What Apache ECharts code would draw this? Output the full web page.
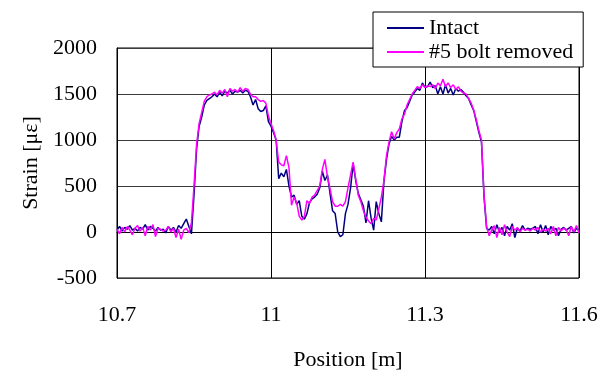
<!DOCTYPE html>
<html>
<head>
<meta charset="utf-8">
<script src="https://cdn.jsdelivr.net/npm/echarts@6/dist/echarts.min.js"></script>
<style>
html,body{margin:0;padding:0;background:#fff;}
#chart{width:615px;height:376px;}
</style>
</head>
<body>
<div id="chart"></div>
<script>
// Position [m] of each sample
const positions = [
10.700,10.705,10.710,10.715,10.720,10.725,10.730,10.735,10.740,10.745,
10.750,10.755,10.760,10.765,10.770,10.775,10.780,10.785,10.790,10.795,
10.800,10.805,10.810,10.815,10.820,10.825,10.830,10.835,10.840,10.845,
10.850,10.855,10.860,10.865,10.870,10.875,10.880,10.885,10.890,10.895,
10.900,10.905,10.910,10.915,10.920,10.925,10.930,10.935,10.940,10.945,
10.950,10.955,10.960,10.965,10.970,10.975,10.980,10.985,10.990,10.995,
11.000,11.005,11.010,11.015,11.020,11.025,11.030,11.035,11.040,11.045,
11.050,11.055,11.060,11.065,11.070,11.075,11.080,11.085,11.090,11.095,
11.100,11.105,11.110,11.115,11.120,11.125,11.130,11.135,11.140,11.145,
11.150,11.155,11.160,11.165,11.170,11.175,11.180,11.185,11.190,11.195,
11.200,11.205,11.210,11.215,11.220,11.225,11.230,11.235,11.240,11.245,
11.250,11.255,11.260,11.265,11.270,11.275,11.280,11.285,11.290,11.295,
11.300,11.305,11.310,11.315,11.320,11.325,11.330,11.335,11.340,11.345,
11.350,11.355,11.360,11.365,11.370,11.375,11.380,11.385,11.390,11.395,
11.400,11.405,11.410,11.415,11.420,11.425,11.430,11.435,11.440,11.445,
11.450,11.455,11.460,11.465,11.470,11.475,11.480,11.485,11.490,11.495,
11.500,11.505,11.510,11.515,11.520,11.525,11.530,11.535,11.540,11.545,
11.550,11.555,11.560,11.565,11.570,11.575,11.580,11.585,11.590,11.595,
11.600
];
// Strain [με], Intact
const intact = [
20,60,10,50,30,70,20,40,10,50,
30,80,20,60,40,10,50,20,30,-10,
60,20,50,0,70,40,90,140,60,-20,
400,900,1150,1250,1380,1430,1450,1470,1500,1470,
1520,1480,1530,1510,1540,1500,1530,1520,1540,1510,
1540,1530,1470,1380,1440,1340,1310,1320,1370,1200,
1150,1080,1000,580,640,600,680,500,380,400,
300,340,170,140,200,320,360,380,410,480,
660,560,620,420,230,200,0,-50,-30,200,
300,480,740,560,420,350,280,100,340,150,
20,330,200,110,550,790,960,1040,1000,1030,
1030,1200,1320,1350,1420,1490,1520,1560,1540,1620,
1570,1580,1630,1570,1590,1500,1580,1500,1600,1510,
1560,1490,1560,1530,1550,1520,1480,1450,1380,1320,
1200,1080,980,380,40,20,60,-20,80,0,
50,-40,60,20,90,-60,40,10,70,20,
40,30,40,60,-20,80,0,70,-30,60,
20,40,-40,30,50,20,40,60,-10,40,
20
];
// Strain [με], #5 bolt removed
const bolt5Removed = [
30,-20,50,0,60,20,-30,40,70,10,
50,-40,60,20,80,-50,40,30,10,20,
60,0,40,-60,30,-80,20,40,-10,100,
500,950,1180,1300,1420,1470,1490,1500,1520,1490,
1540,1510,1550,1470,1560,1530,1550,1520,1570,1530,
1560,1550,1500,1470,1470,1440,1420,1430,1400,1260,
1180,1100,1000,760,730,720,830,700,290,380,
320,170,130,170,340,310,380,400,450,500,
680,790,600,470,330,280,280,300,280,330,
480,620,760,580,400,330,230,160,120,90,
150,130,250,380,560,830,980,1090,1010,1080,
1120,1230,1280,1380,1440,1500,1540,1580,1560,1600,
1570,1590,1580,1600,1560,1620,1590,1660,1580,1620,
1570,1600,1550,1580,1530,1510,1500,1450,1400,1320,
1220,1100,1000,400,60,-40,20,70,-60,50,
-30,80,0,-50,60,20,50,0,40,20,
30,10,40,20,50,0,30,10,40,-20,
60,-40,50,10,40,30,-40,60,0,70,
-10
];
const seriesNames = ['Intact', '#5 bolt removed'];
const xTickLabels = ['10.7', '11', '11.3', '11.6'];
const xStart = 10.7, xStep = 0.3;
const yMin = -500, yMax = 2000, yStep = 500;

const FONT = '"Liberation Serif", "Times New Roman", serif';
const chart = echarts.init(document.getElementById('chart'), null, {renderer: 'canvas'});
const toPairs = vals => positions.map((p, i) => [p - xStart, vals[i]]);

chart.setOption({
  animation: false,
  backgroundColor: '#fff',
  grid: {left: 117, right: 36, top: 48, bottom: 94, show: true, borderColor: '#000', borderWidth: 1, backgroundColor: 'transparent'},
  legend: {
    orient: 'vertical', left: 373, top: 12,
    backgroundColor: '#fff', borderColor: '#000', borderWidth: 1,
    padding: [5, 10, 4, 14], itemGap: 2, itemWidth: 37, itemHeight: 2,
    icon: 'rect',
    textStyle: {fontFamily: FONT, fontSize: 22, color: '#000', lineHeight: 22},
    data: seriesNames
  },
  xAxis: {
    type: 'value', min: 0, max: xStep * (xTickLabels.length - 1), interval: xStep,
    name: 'Position [m]', nameLocation: 'middle', nameGap: 71,
    nameTextStyle: {fontFamily: FONT, fontSize: 22, color: '#000'},
    axisLine: {lineStyle: {color: '#000', width: 1}},
    axisTick: {show: false},
    axisLabel: {fontFamily: FONT, fontSize: 22, color: '#000', margin: 26,
      formatter: v => xTickLabels[Math.round(v / xStep)]},
    splitLine: {show: true, lineStyle: {color: '#000', width: 1}}
  },
  yAxis: {
    type: 'value', min: yMin, max: yMax, interval: yStep,
    name: 'Strain [με]', nameLocation: 'middle', nameGap: 67, nameRotate: 90,
    nameTextStyle: {fontFamily: FONT, fontSize: 22, color: '#000'},
    axisLine: {show: true, lineStyle: {color: '#000', width: 1}},
    axisTick: {show: false},
    axisLabel: {fontFamily: FONT, fontSize: 22, color: '#000', margin: 20,
      formatter: v => String(v)},
    splitLine: {show: true, lineStyle: {color: '#3a3a3a', width: 1}}
  },
  series: [
    {name: seriesNames[0], type: 'line', data: toPairs(intact), symbol: 'none',
     lineStyle: {color: '#000080', width: 1.5}, itemStyle: {color: '#000080'}},
    {name: seriesNames[1], type: 'line', data: toPairs(bolt5Removed), symbol: 'none',
     lineStyle: {color: '#ff00ff', width: 1.5}, itemStyle: {color: '#ff00ff'}}
  ]
});
</script>
</body>
</html>
